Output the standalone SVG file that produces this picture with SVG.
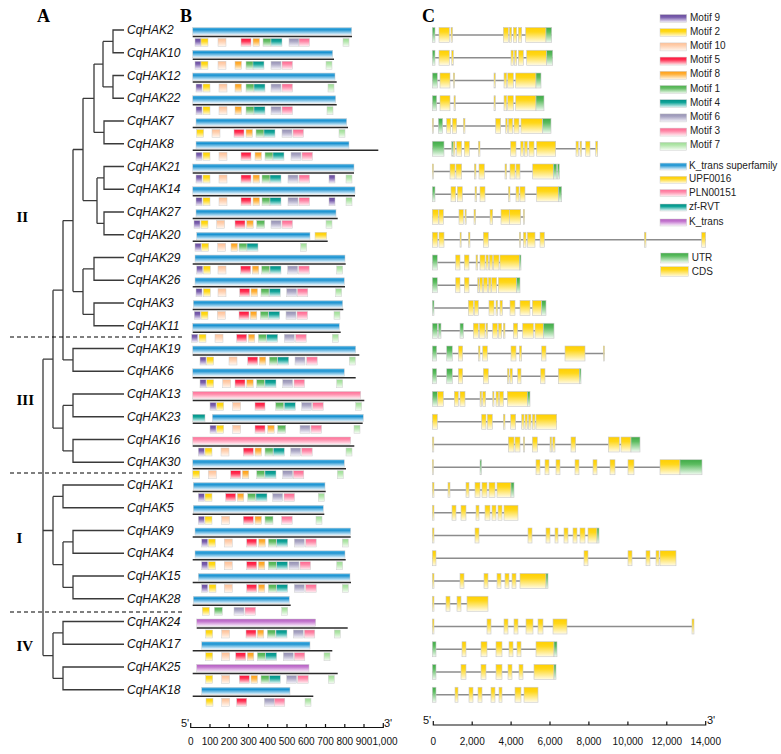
<svg xmlns="http://www.w3.org/2000/svg" width="781" height="754" viewBox="0 0 781 754">
<style>
.lbl{font:italic 12px "Liberation Sans",Arial,sans-serif;fill:#111}
.pl{stroke:#2a2a2a;stroke-width:1.4}
.in{stroke:#8c8c8c;stroke-width:1.3}
.dom{stroke:#cfcfcf;stroke-width:0.5}
.ex{stroke:#c8c8c8;stroke-width:0.6}
.Y{fill:url(#gY)}.G{fill:url(#gG)}
.kb{fill:url(#gKB)}.up{fill:url(#gUP)}.pn{fill:url(#gPN)}.zf{fill:url(#gZF)}.kt{fill:url(#gKT)}
.tree path{fill:none;stroke:#3a3a3a;stroke-width:1.3}
.dash{stroke:#000;stroke-width:1.2;stroke-dasharray:4 3}
.grp{font:bold 15px "Liberation Serif","Times New Roman",serif}
.pan{font:bold 18px "Liberation Serif","Times New Roman",serif}
.leg{font:10px "Liberation Sans",Arial,sans-serif;fill:#222}
.ax{font:10px "Liberation Sans",Arial,sans-serif;text-anchor:middle;fill:#111}
.axl{stroke:#111;stroke-width:1.2;fill:none}
.pr{font:11px "Liberation Sans",Arial,sans-serif;fill:#111}
</style>
<defs>
<linearGradient id="g9" x1="0" y1="0" x2="0" y2="1"><stop offset="0" stop-color="#6a4c9c"/><stop offset="0.35" stop-color="#7a5fae"/><stop offset="1" stop-color="#f6f2fb"/></linearGradient>
<linearGradient id="g2" x1="0" y1="0" x2="0" y2="1"><stop offset="0" stop-color="#ffd200"/><stop offset="0.35" stop-color="#ffd91a"/><stop offset="1" stop-color="#fffbe6"/></linearGradient>
<linearGradient id="g10" x1="0" y1="0" x2="0" y2="1"><stop offset="0" stop-color="#ffbf94"/><stop offset="0.35" stop-color="#ffcfae"/><stop offset="1" stop-color="#fff8f2"/></linearGradient>
<linearGradient id="g5" x1="0" y1="0" x2="0" y2="1"><stop offset="0" stop-color="#ff1038"/><stop offset="0.35" stop-color="#ff3355"/><stop offset="1" stop-color="#fff0f2"/></linearGradient>
<linearGradient id="g8" x1="0" y1="0" x2="0" y2="1"><stop offset="0" stop-color="#ff9e14"/><stop offset="0.35" stop-color="#ffb038"/><stop offset="1" stop-color="#fff6e8"/></linearGradient>
<linearGradient id="g1" x1="0" y1="0" x2="0" y2="1"><stop offset="0" stop-color="#4cb04c"/><stop offset="0.35" stop-color="#66be66"/><stop offset="1" stop-color="#f2faf2"/></linearGradient>
<linearGradient id="g4" x1="0" y1="0" x2="0" y2="1"><stop offset="0" stop-color="#008f85"/><stop offset="0.35" stop-color="#12a59a"/><stop offset="1" stop-color="#eefaf9"/></linearGradient>
<linearGradient id="g6" x1="0" y1="0" x2="0" y2="1"><stop offset="0" stop-color="#9490b2"/><stop offset="0.35" stop-color="#aaa6c4"/><stop offset="1" stop-color="#f7f6fb"/></linearGradient>
<linearGradient id="g3" x1="0" y1="0" x2="0" y2="1"><stop offset="0" stop-color="#ff6690"/><stop offset="0.35" stop-color="#ff86a6"/><stop offset="1" stop-color="#fff3f6"/></linearGradient>
<linearGradient id="g7" x1="0" y1="0" x2="0" y2="1"><stop offset="0" stop-color="#9cdc94"/><stop offset="0.35" stop-color="#b2e6aa"/><stop offset="1" stop-color="#f6fcf5"/></linearGradient>
<linearGradient id="gKB" x1="0" y1="0" x2="0" y2="1"><stop offset="0" stop-color="#5ab6e4"/><stop offset="0.3" stop-color="#1a92d0"/><stop offset="1" stop-color="#f4faff"/></linearGradient>
<linearGradient id="gUP" x1="0" y1="0" x2="0" y2="1"><stop offset="0" stop-color="#ffcc00"/><stop offset="0.35" stop-color="#ffd61a"/><stop offset="1" stop-color="#fffbe6"/></linearGradient>
<linearGradient id="gPN" x1="0" y1="0" x2="0" y2="1"><stop offset="0" stop-color="#ff6f98"/><stop offset="0.35" stop-color="#ff8cab"/><stop offset="1" stop-color="#fff3f6"/></linearGradient>
<linearGradient id="gZF" x1="0" y1="0" x2="0" y2="1"><stop offset="0" stop-color="#008f85"/><stop offset="0.35" stop-color="#0ea397"/><stop offset="1" stop-color="#eefaf9"/></linearGradient>
<linearGradient id="gKT" x1="0" y1="0" x2="0" y2="1"><stop offset="0" stop-color="#b35cc0"/><stop offset="0.35" stop-color="#c57ad0"/><stop offset="1" stop-color="#fbf3fc"/></linearGradient>
<linearGradient id="gY" x1="0" y1="0" x2="0" y2="1"><stop offset="0" stop-color="#ffcf00"/><stop offset="0.3" stop-color="#ffd71a"/><stop offset="1" stop-color="#fffbe8"/></linearGradient>
<linearGradient id="gG" x1="0" y1="0" x2="0" y2="1"><stop offset="0" stop-color="#3faa46"/><stop offset="0.3" stop-color="#5cbc60"/><stop offset="1" stop-color="#f3fbf3"/></linearGradient>
<rect id="m9" width="6" height="8" fill="url(#g9)" stroke="#cfcfcf" stroke-width="0.5"/>
<rect id="m2" width="7" height="8" fill="url(#g2)" stroke="#cfcfcf" stroke-width="0.5"/>
<rect id="m10" width="8" height="8" fill="url(#g10)" stroke="#cfcfcf" stroke-width="0.5"/>
<rect id="m5" width="10" height="8" fill="url(#g5)" stroke="#cfcfcf" stroke-width="0.5"/>
<rect id="m8" width="6.5" height="8" fill="url(#g8)" stroke="#cfcfcf" stroke-width="0.5"/>
<rect id="m1" width="8" height="8" fill="url(#g1)" stroke="#cfcfcf" stroke-width="0.5"/>
<rect id="m4" width="11" height="8" fill="url(#g4)" stroke="#cfcfcf" stroke-width="0.5"/>
<rect id="m6" width="10" height="8" fill="url(#g6)" stroke="#cfcfcf" stroke-width="0.5"/>
<rect id="m3" width="10.5" height="8" fill="url(#g3)" stroke="#cfcfcf" stroke-width="0.5"/>
<rect id="m7" width="6" height="8" fill="url(#g7)" stroke="#cfcfcf" stroke-width="0.5"/>
</defs>
<rect width="781" height="754" fill="#fff"/>

<text class="pan" x="37" y="22">A</text>
<text class="pan" x="180" y="22">B</text>
<text class="pan" x="422" y="22">C</text>

<text class="grp" x="16.5" y="222">II</text>
<text class="grp" x="16.5" y="405">III</text>
<text class="grp" x="16.5" y="543">I</text>
<text class="grp" x="16.5" y="651">IV</text>

<g id="connectors" class="tree">
<path d="M124,30H113V52.75H124M113,41.4H103"/>
<path d="M124,75.5H113V98.25H124M113,86.9H103"/>
<path d="M103,41.4V86.9M103,64.1H94"/>
<path d="M124,121H104V143.75H124M104,132.4H94"/>
<path d="M94,64.1V132.4M94,98.3H83"/>
<path d="M124,166.5H104V189.25H124M104,177.9H97"/>
<path d="M124,212H104V234.75H124M104,223.4H97"/>
<path d="M97,177.9V223.4M97,200.6H83"/>
<path d="M83,98.3V200.6M83,149.5H73"/>
<path d="M124,257.5H94V280.25H124M94,268.9H83"/>
<path d="M124,303H94V325.75H124M94,314.4H83"/>
<path d="M83,268.9V314.4M83,291.6H73"/>
<path d="M73,149.5V291.6M73,220.6H63"/>
<path d="M124,348.5H73V371.25H124M73,359.9H63"/>
<path d="M63,220.6V359.9M63,290.2H53"/>
<path d="M124,394H73V416.75H124M73,405.4H63"/>
<path d="M124,439.5H73V462.25H124M73,450.9H63"/>
<path d="M63,405.4V450.9M63,428.1H53"/>
<path d="M53,290.2V428.1M53,359.2H43"/>
<path d="M124,485H63V507.75H124M63,496.4H53"/>
<path d="M124,530.5H73V553.25H124M73,541.9H63"/>
<path d="M124,576H73V598.75H124M73,587.4H63"/>
<path d="M63,541.9V587.4M63,564.6H53"/>
<path d="M53,496.4V564.6M53,530.5H43"/>
<path d="M124,621.5H63V644.25H124M63,632.9H53"/>
<path d="M124,667H63V689.75H124M63,678.4H53"/>
<path d="M53,632.9V678.4M53,655.6H43"/>
<path d="M43,359.2V655.6"/>
</g>

<g id="dividers">
<line class="dash" x1="10" y1="337" x2="183" y2="337"/>
<line class="dash" x1="10" y1="473" x2="183" y2="473"/>
<line class="dash" x1="10" y1="612" x2="183" y2="612"/>
</g>

<g id="CqHAK2" transform="translate(0,30)">
<text class="lbl" x="127" y="4">CqHAK2</text>
<rect class="dom kb" x="192.7" y="-2.5" width="159" height="7.5"/>
<line class="pl" x1="192.7" x2="352" y1="6.5" y2="6.5"/>
<use href="#m9" x="195" y="8.5"/><use href="#m2" x="201" y="8.5"/><use href="#m10" x="218" y="8.5"/><use href="#m5" x="241" y="8.5"/><use href="#m8" x="253" y="8.5"/><use href="#m1" x="263" y="8.5"/><use href="#m4" x="271" y="8.5"/><use href="#m6" x="289" y="8.5"/><use href="#m3" x="299" y="8.5"/><use href="#m7" x="343" y="8.5"/>
<line class="in" x1="432.3" x2="551.7" y1="5" y2="5"/>
<rect class="ex G" x="432.3" y="-2.5" width="2.7" height="15"/><rect class="ex Y" x="439" y="-2.5" width="10.3" height="15"/><rect class="ex Y" x="451" y="-2.5" width="1.5" height="15"/><rect class="ex Y" x="503.3" y="-2.5" width="5" height="15"/><rect class="ex Y" x="509.3" y="-2.5" width="2.4" height="15"/><rect class="ex Y" x="513.3" y="-2.5" width="3.4" height="15"/><rect class="ex Y" x="518.3" y="-2.5" width="3.4" height="15"/><rect class="ex Y" x="525.7" y="-2.5" width="20.3" height="15"/><rect class="ex G" x="546" y="-2.5" width="5.7" height="15"/>
</g>

<g id="CqHAK10" transform="translate(0,52.75)">
<text class="lbl" x="127" y="4">CqHAK10</text>
<rect class="dom kb" x="192.7" y="-2.5" width="140" height="7.5"/>
<line class="pl" x1="192.7" x2="334" y1="6.5" y2="6.5"/>
<use href="#m9" x="195" y="8.5"/><use href="#m2" x="201" y="8.5"/><use href="#m10" x="218" y="8.5"/><use href="#m8" x="235" y="8.5"/><use href="#m1" x="246" y="8.5"/><use href="#m4" x="253" y="8.5"/><use href="#m6" x="271" y="8.5"/><use href="#m3" x="282" y="8.5"/><use href="#m7" x="326" y="8.5"/>
<line class="in" x1="432.3" x2="552.7" y1="5" y2="5"/>
<rect class="ex G" x="432.3" y="-2.5" width="2.7" height="15"/><rect class="ex Y" x="439" y="-2.5" width="10.3" height="15"/><rect class="ex Y" x="451.7" y="-2.5" width="1.6" height="15"/><rect class="ex Y" x="511" y="-2.5" width="2.3" height="15"/><rect class="ex Y" x="514.3" y="-2.5" width="2.4" height="15"/><rect class="ex Y" x="518.3" y="-2.5" width="5" height="15"/><rect class="ex Y" x="526.7" y="-2.5" width="20" height="15"/><rect class="ex G" x="546.7" y="-2.5" width="6" height="15"/>
</g>

<g id="CqHAK12" transform="translate(0,75.5)">
<text class="lbl" x="127" y="4">CqHAK12</text>
<rect class="dom kb" x="192.7" y="-2.5" width="142.3" height="7.5"/>
<line class="pl" x1="192.7" x2="336.7" y1="6.5" y2="6.5"/>
<use href="#m9" x="196" y="8.5"/><use href="#m2" x="203" y="8.5"/><use href="#m10" x="219" y="8.5"/><use href="#m8" x="235" y="8.5"/><use href="#m1" x="246" y="8.5"/><use href="#m4" x="254" y="8.5"/><use href="#m6" x="271" y="8.5"/><use href="#m3" x="282" y="8.5"/><use href="#m7" x="328" y="8.5"/>
<line class="in" x1="432.3" x2="541" y1="5" y2="5"/>
<rect class="ex G" x="432.3" y="-2.5" width="5" height="15"/><rect class="ex Y" x="440" y="-2.5" width="10" height="15"/><rect class="ex Y" x="453.3" y="-2.5" width="1.4" height="15"/><rect class="ex Y" x="494" y="-2.5" width="1.3" height="15"/><rect class="ex Y" x="504" y="-2.5" width="2.7" height="15"/><rect class="ex Y" x="507.7" y="-2.5" width="5.6" height="15"/><rect class="ex Y" x="515.7" y="-2.5" width="20.3" height="15"/><rect class="ex G" x="536" y="-2.5" width="5" height="15"/>
</g>

<g id="CqHAK22" transform="translate(0,98.25)">
<text class="lbl" x="127" y="4">CqHAK22</text>
<rect class="dom kb" x="192.7" y="-2.5" width="143" height="7.5"/>
<line class="pl" x1="192.7" x2="336.7" y1="6.5" y2="6.5"/>
<use href="#m9" x="196" y="8.5"/><use href="#m2" x="203" y="8.5"/><use href="#m10" x="219" y="8.5"/><use href="#m8" x="235" y="8.5"/><use href="#m1" x="246" y="8.5"/><use href="#m4" x="254" y="8.5"/><use href="#m6" x="271" y="8.5"/><use href="#m3" x="282" y="8.5"/><use href="#m7" x="327" y="8.5"/>
<line class="in" x1="432.3" x2="544" y1="5" y2="5"/>
<rect class="ex G" x="432.3" y="-2.5" width="4.4" height="15"/><rect class="ex Y" x="440" y="-2.5" width="10" height="15"/><rect class="ex Y" x="454" y="-2.5" width="1.3" height="15"/><rect class="ex Y" x="494" y="-2.5" width="1.3" height="15"/><rect class="ex Y" x="504" y="-2.5" width="2.7" height="15"/><rect class="ex Y" x="507.7" y="-2.5" width="5.6" height="15"/><rect class="ex Y" x="515.7" y="-2.5" width="20.3" height="15"/><rect class="ex G" x="536" y="-2.5" width="8" height="15"/>
</g>

<g id="CqHAK7" transform="translate(0,121)">
<text class="lbl" x="127" y="4">CqHAK7</text>
<rect class="dom kb" x="196" y="-2.5" width="150.7" height="7.5"/>
<line class="pl" x1="192.7" x2="348" y1="6.5" y2="6.5"/>
<use href="#m2" x="196.7" y="8.5"/><use href="#m10" x="212" y="8.5"/><use href="#m5" x="234" y="8.5"/><use href="#m8" x="246" y="8.5"/><use href="#m1" x="256" y="8.5"/><use href="#m4" x="264" y="8.5"/><use href="#m6" x="282" y="8.5"/><use href="#m3" x="293" y="8.5"/><use href="#m7" x="339" y="8.5"/>
<line class="in" x1="432.3" x2="551" y1="5" y2="5"/>
<rect class="ex Y" x="432.3" y="-2.5" width="1.2" height="15"/><rect class="ex G" x="438.3" y="-2.5" width="4.4" height="15"/><rect class="ex Y" x="446.7" y="-2.5" width="4" height="15"/><rect class="ex Y" x="452.3" y="-2.5" width="4.4" height="15"/><rect class="ex Y" x="463.3" y="-2.5" width="1.7" height="15"/><rect class="ex Y" x="495.7" y="-2.5" width="5" height="15"/><rect class="ex Y" x="505.7" y="-2.5" width="1.6" height="15"/><rect class="ex Y" x="508.3" y="-2.5" width="4.4" height="15"/><rect class="ex Y" x="514" y="-2.5" width="5" height="15"/><rect class="ex Y" x="521" y="-2.5" width="21.7" height="15"/><rect class="ex G" x="542.7" y="-2.5" width="8.3" height="15"/>
</g>

<g id="CqHAK8" transform="translate(0,143.75)">
<text class="lbl" x="127" y="4">CqHAK8</text>
<rect class="dom kb" x="196" y="-2.5" width="153" height="7.5"/>
<line class="pl" x1="192.7" x2="378.3" y1="6.5" y2="6.5"/>
<use href="#m9" x="196" y="8.5"/><use href="#m2" x="203" y="8.5"/><use href="#m10" x="219" y="8.5"/><use href="#m5" x="241" y="8.5"/><use href="#m8" x="255" y="8.5"/><use href="#m1" x="265" y="8.5"/><use href="#m4" x="273" y="8.5"/><use href="#m6" x="291" y="8.5"/><use href="#m3" x="302" y="8.5"/>
<line class="in" x1="432.3" x2="597.7" y1="5" y2="5"/>
<rect class="ex G" x="432.3" y="-2.5" width="11.7" height="15"/><rect class="ex G" x="451.7" y="-2.5" width="1.5" height="15"/><rect class="ex Y" x="453.2" y="-2.5" width="1.8" height="15"/><rect class="ex Y" x="456.7" y="-2.5" width="5" height="15"/><rect class="ex Y" x="464.3" y="-2.5" width="5" height="15"/><rect class="ex Y" x="478.3" y="-2.5" width="1.7" height="15"/><rect class="ex Y" x="510.7" y="-2.5" width="5.3" height="15"/><rect class="ex Y" x="520.7" y="-2.5" width="2.6" height="15"/><rect class="ex Y" x="524.3" y="-2.5" width="3" height="15"/><rect class="ex Y" x="529" y="-2.5" width="5" height="15"/><rect class="ex Y" x="536.7" y="-2.5" width="19" height="15"/><rect class="ex Y" x="576" y="-2.5" width="2.3" height="15"/><rect class="ex Y" x="580" y="-2.5" width="1.7" height="15"/><rect class="ex Y" x="585.7" y="-2.5" width="4.3" height="15"/><rect class="ex Y" x="595.7" y="-2.5" width="2" height="15"/>
</g>

<g id="CqHAK21" transform="translate(0,166.5)">
<text class="lbl" x="127" y="4">CqHAK21</text>
<rect class="dom kb" x="192.7" y="-2.5" width="161.3" height="7.5"/>
<line class="pl" x1="192.7" x2="354" y1="6.5" y2="6.5"/>
<use href="#m9" x="196" y="8.5"/><use href="#m2" x="203" y="8.5"/><use href="#m10" x="219" y="8.5"/><use href="#m5" x="241" y="8.5"/><use href="#m8" x="253" y="8.5"/><use href="#m1" x="262" y="8.5"/><use href="#m4" x="270" y="8.5"/><use href="#m6" x="288" y="8.5"/><use href="#m3" x="299" y="8.5"/><use href="#m9" x="329" y="8.5"/><use href="#m7" x="346" y="8.5"/>
<line class="in" x1="432.3" x2="559.3" y1="5" y2="5"/>
<rect class="ex Y" x="432.3" y="-2.5" width="1.2" height="15"/><rect class="ex Y" x="450" y="-2.5" width="5" height="15"/><rect class="ex Y" x="456" y="-2.5" width="5.7" height="15"/><rect class="ex Y" x="474.3" y="-2.5" width="1.7" height="15"/><rect class="ex Y" x="479" y="-2.5" width="5.3" height="15"/><rect class="ex Y" x="505" y="-2.5" width="1.7" height="15"/><rect class="ex Y" x="510" y="-2.5" width="5" height="15"/><rect class="ex Y" x="516" y="-2.5" width="4" height="15"/><rect class="ex Y" x="532.7" y="-2.5" width="20.6" height="15"/><rect class="ex G" x="553.3" y="-2.5" width="3.5" height="15"/><rect class="ex G" x="557.5" y="-2.5" width="1.8" height="15"/>
</g>

<g id="CqHAK14" transform="translate(0,189.25)">
<text class="lbl" x="127" y="4">CqHAK14</text>
<rect class="dom kb" x="192.7" y="-2.5" width="162.3" height="7.5"/>
<line class="pl" x1="192.7" x2="355" y1="6.5" y2="6.5"/>
<use href="#m9" x="196" y="8.5"/><use href="#m2" x="203" y="8.5"/><use href="#m10" x="219" y="8.5"/><use href="#m5" x="241" y="8.5"/><use href="#m8" x="253" y="8.5"/><use href="#m1" x="262" y="8.5"/><use href="#m4" x="270" y="8.5"/><use href="#m6" x="288" y="8.5"/><use href="#m3" x="299" y="8.5"/><use href="#m9" x="329" y="8.5"/><use href="#m7" x="346" y="8.5"/>
<line class="in" x1="432.3" x2="561.7" y1="5" y2="5"/>
<rect class="ex G" x="432.3" y="-2.5" width="2.7" height="15"/><rect class="ex Y" x="451" y="-2.5" width="4.7" height="15"/><rect class="ex Y" x="457.3" y="-2.5" width="5" height="15"/><rect class="ex Y" x="475" y="-2.5" width="1.7" height="15"/><rect class="ex Y" x="480" y="-2.5" width="5" height="15"/><rect class="ex Y" x="508.3" y="-2.5" width="1.7" height="15"/><rect class="ex Y" x="516" y="-2.5" width="3" height="15"/><rect class="ex Y" x="520" y="-2.5" width="5" height="15"/><rect class="ex Y" x="536.7" y="-2.5" width="21.6" height="15"/><rect class="ex G" x="558.3" y="-2.5" width="3.4" height="15"/>
</g>

<g id="CqHAK27" transform="translate(0,212)">
<text class="lbl" x="127" y="4">CqHAK27</text>
<rect class="dom kb" x="196" y="-2.5" width="140" height="7.5"/>
<line class="pl" x1="192.7" x2="337.7" y1="6.5" y2="6.5"/>
<use href="#m9" x="194" y="8.5"/><use href="#m2" x="201" y="8.5"/><use href="#m10" x="216.7" y="8.5"/><use href="#m5" x="235" y="8.5"/><use href="#m8" x="246.7" y="8.5"/><use href="#m1" x="256.7" y="8.5"/><use href="#m6" x="271" y="8.5"/><use href="#m3" x="282" y="8.5"/><use href="#m7" x="326" y="8.5"/>
<line class="in" x1="432.3" x2="524.5" y1="5" y2="5"/>
<rect class="ex Y" x="432.3" y="-2.5" width="6" height="15"/><rect class="ex Y" x="439" y="-2.5" width="4.3" height="15"/><rect class="ex Y" x="459" y="-2.5" width="4.3" height="15"/><rect class="ex Y" x="465" y="-2.5" width="1.2" height="15"/><rect class="ex Y" x="474" y="-2.5" width="1.7" height="15"/><rect class="ex Y" x="490" y="-2.5" width="2.7" height="15"/><rect class="ex Y" x="501" y="-2.5" width="8.3" height="15"/><rect class="ex Y" x="509.3" y="-2.5" width="11.4" height="15"/><rect class="ex Y" x="523.3" y="-2.5" width="1.2" height="15"/>
</g>

<g id="CqHAK20" transform="translate(0,234.75)">
<text class="lbl" x="127" y="4">CqHAK20</text>
<rect class="dom kb" x="196.7" y="-2.5" width="113.3" height="7.5"/>
<rect class="dom up" x="315" y="-2.5" width="11.7" height="7.5"/>
<line class="pl" x1="192.7" x2="327.7" y1="6.5" y2="6.5"/>
<use href="#m9" x="195" y="8.5"/><use href="#m2" x="201.7" y="8.5"/><use href="#m10" x="217.7" y="8.5"/><use href="#m8" x="231" y="8.5"/><use href="#m1" x="239" y="8.5"/><use href="#m4" x="247" y="8.5"/><use href="#m7" x="300.7" y="8.5"/>
<line class="in" x1="432.3" x2="705.7" y1="5" y2="5"/>
<rect class="ex Y" x="432.3" y="-2.5" width="5.4" height="15"/><rect class="ex Y" x="439" y="-2.5" width="5" height="15"/><rect class="ex Y" x="460" y="-2.5" width="1.2" height="15"/><rect class="ex Y" x="468.3" y="-2.5" width="1.7" height="15"/><rect class="ex Y" x="483.3" y="-2.5" width="5" height="15"/><rect class="ex Y" x="519.3" y="-2.5" width="1.4" height="15"/><rect class="ex Y" x="523.3" y="-2.5" width="2.7" height="15"/><rect class="ex Y" x="527.3" y="-2.5" width="7.7" height="15"/><rect class="ex Y" x="540" y="-2.5" width="4.3" height="15"/><rect class="ex Y" x="644.3" y="-2.5" width="1.7" height="15"/><rect class="ex Y" x="701.7" y="-2.5" width="4" height="15"/>
</g>

<g id="CqHAK29" transform="translate(0,257.5)">
<text class="lbl" x="127" y="4">CqHAK29</text>
<rect class="dom kb" x="195" y="-2.5" width="150" height="7.5"/>
<line class="pl" x1="192.7" x2="345.7" y1="6.5" y2="6.5"/>
<use href="#m9" x="196.7" y="8.5"/><use href="#m2" x="203.3" y="8.5"/><use href="#m10" x="218" y="8.5"/><use href="#m5" x="240.7" y="8.5"/><use href="#m8" x="252.3" y="8.5"/><use href="#m1" x="261.7" y="8.5"/><use href="#m4" x="270" y="8.5"/><use href="#m6" x="287.7" y="8.5"/><use href="#m3" x="298.7" y="8.5"/><use href="#m7" x="336.7" y="8.5"/>
<line class="in" x1="432.3" x2="521" y1="5" y2="5"/>
<rect class="ex G" x="432.3" y="-2.5" width="5" height="15"/><rect class="ex Y" x="455.7" y="-2.5" width="4.3" height="15"/><rect class="ex Y" x="464.3" y="-2.5" width="4.7" height="15"/><rect class="ex Y" x="476" y="-2.5" width="1.7" height="15"/><rect class="ex Y" x="480" y="-2.5" width="5" height="15"/><rect class="ex Y" x="486" y="-2.5" width="2.3" height="15"/><rect class="ex Y" x="489.3" y="-2.5" width="3.4" height="15"/><rect class="ex Y" x="493.3" y="-2.5" width="5.7" height="15"/><rect class="ex Y" x="500" y="-2.5" width="19.3" height="15"/><rect class="ex G" x="519.3" y="-2.5" width="1.7" height="15"/>
</g>

<g id="CqHAK26" transform="translate(0,280.25)">
<text class="lbl" x="127" y="4">CqHAK26</text>
<rect class="dom kb" x="195" y="-2.5" width="149.3" height="7.5"/>
<line class="pl" x1="192.7" x2="345" y1="6.5" y2="6.5"/>
<use href="#m9" x="196" y="8.5"/><use href="#m2" x="203.3" y="8.5"/><use href="#m10" x="218" y="8.5"/><use href="#m5" x="239.7" y="8.5"/><use href="#m8" x="251" y="8.5"/><use href="#m1" x="261" y="8.5"/><use href="#m4" x="269.3" y="8.5"/><use href="#m6" x="286.7" y="8.5"/><use href="#m3" x="297.3" y="8.5"/><use href="#m7" x="335.7" y="8.5"/>
<line class="in" x1="432.3" x2="520" y1="5" y2="5"/>
<rect class="ex G" x="432.3" y="-2.5" width="5" height="15"/><rect class="ex Y" x="455.7" y="-2.5" width="4.3" height="15"/><rect class="ex Y" x="464.3" y="-2.5" width="4.7" height="15"/><rect class="ex Y" x="477.7" y="-2.5" width="1.4" height="15"/><rect class="ex Y" x="479.7" y="-2.5" width="3" height="15"/><rect class="ex Y" x="483.3" y="-2.5" width="4" height="15"/><rect class="ex Y" x="488.3" y="-2.5" width="2.7" height="15"/><rect class="ex Y" x="491.7" y="-2.5" width="5" height="15"/><rect class="ex Y" x="498.3" y="-2.5" width="18.4" height="15"/><rect class="ex G" x="516.7" y="-2.5" width="3.3" height="15"/>
</g>

<g id="CqHAK3" transform="translate(0,303)">
<text class="lbl" x="127" y="4">CqHAK3</text>
<rect class="dom kb" x="193.3" y="-2.5" width="149.4" height="7.5"/>
<line class="pl" x1="192.7" x2="343.3" y1="6.5" y2="6.5"/>
<use href="#m9" x="194.3" y="8.5"/><use href="#m2" x="201" y="8.5"/><use href="#m10" x="217.3" y="8.5"/><use href="#m5" x="239" y="8.5"/><use href="#m8" x="250.3" y="8.5"/><use href="#m1" x="260.3" y="8.5"/><use href="#m4" x="268.7" y="8.5"/><use href="#m6" x="286" y="8.5"/><use href="#m3" x="297" y="8.5"/><use href="#m7" x="334" y="8.5"/>
<line class="in" x1="432.3" x2="546" y1="5" y2="5"/>
<rect class="ex G" x="432.3" y="-2.5" width="1.7" height="15"/><rect class="ex Y" x="468.3" y="-2.5" width="5" height="15"/><rect class="ex Y" x="474.3" y="-2.5" width="4" height="15"/><rect class="ex Y" x="489" y="-2.5" width="5" height="15"/><rect class="ex Y" x="496" y="-2.5" width="1.7" height="15"/><rect class="ex Y" x="500" y="-2.5" width="2.3" height="15"/><rect class="ex Y" x="510" y="-2.5" width="5" height="15"/><rect class="ex Y" x="520" y="-2.5" width="10" height="15"/><rect class="ex Y" x="532.3" y="-2.5" width="9.4" height="15"/><rect class="ex G" x="541.7" y="-2.5" width="4.3" height="15"/>
</g>

<g id="CqHAK11" transform="translate(0,325.75)">
<text class="lbl" x="127" y="4">CqHAK11</text>
<rect class="dom kb" x="192.7" y="-2.5" width="146.6" height="7.5"/>
<line class="pl" x1="192.7" x2="340.7" y1="6.5" y2="6.5"/>
<use href="#m9" x="191.7" y="8.5"/><use href="#m2" x="199" y="8.5"/><use href="#m10" x="215" y="8.5"/><use href="#m5" x="236.7" y="8.5"/><use href="#m8" x="248.3" y="8.5"/><use href="#m1" x="258.3" y="8.5"/><use href="#m4" x="266.7" y="8.5"/><use href="#m6" x="284.3" y="8.5"/><use href="#m3" x="295.7" y="8.5"/><use href="#m7" x="332.3" y="8.5"/>
<line class="in" x1="432.3" x2="554" y1="5" y2="5"/>
<rect class="ex G" x="432.3" y="-2.5" width="5" height="15"/><rect class="ex G" x="438.3" y="-2.5" width="2.7" height="15"/><rect class="ex G" x="460" y="-2.5" width="3.3" height="15"/><rect class="ex Y" x="473.3" y="-2.5" width="5" height="15"/><rect class="ex Y" x="479.3" y="-2.5" width="5.7" height="15"/><rect class="ex Y" x="486" y="-2.5" width="1.7" height="15"/><rect class="ex Y" x="492.7" y="-2.5" width="4.6" height="15"/><rect class="ex Y" x="498.3" y="-2.5" width="3.4" height="15"/><rect class="ex Y" x="503.3" y="-2.5" width="1.7" height="15"/><rect class="ex Y" x="513.3" y="-2.5" width="4.4" height="15"/><rect class="ex Y" x="522.7" y="-2.5" width="10.6" height="15"/><rect class="ex Y" x="535" y="-2.5" width="8.3" height="15"/><rect class="ex G" x="543.3" y="-2.5" width="10.7" height="15"/>
</g>

<g id="CqHAK19" transform="translate(0,348.5)">
<text class="lbl" x="127" y="4">CqHAK19</text>
<rect class="dom kb" x="192.7" y="-2.5" width="163" height="7.5"/>
<line class="pl" x1="192.7" x2="359.3" y1="6.5" y2="6.5"/>
<use href="#m9" x="200" y="8.5"/><use href="#m2" x="206.7" y="8.5"/><use href="#m10" x="229" y="8.5"/><use href="#m5" x="247.7" y="8.5"/><use href="#m8" x="259.3" y="8.5"/><use href="#m1" x="269.3" y="8.5"/><use href="#m4" x="277.7" y="8.5"/><use href="#m6" x="295" y="8.5"/><use href="#m3" x="306.7" y="8.5"/><use href="#m7" x="349.3" y="8.5"/>
<line class="in" x1="432.3" x2="604.5" y1="5" y2="5"/>
<rect class="ex G" x="432.3" y="-2.5" width="4.4" height="15"/><rect class="ex G" x="446.7" y="-2.5" width="5.6" height="15"/><rect class="ex Y" x="458.3" y="-2.5" width="4.4" height="15"/><rect class="ex Y" x="478.3" y="-2.5" width="1.7" height="15"/><rect class="ex Y" x="482.7" y="-2.5" width="4.6" height="15"/><rect class="ex Y" x="511" y="-2.5" width="5" height="15"/><rect class="ex Y" x="519.3" y="-2.5" width="2.4" height="15"/><rect class="ex Y" x="541.7" y="-2.5" width="4.3" height="15"/><rect class="ex Y" x="565" y="-2.5" width="20" height="15"/><rect class="ex Y" x="603.3" y="-2.5" width="1.2" height="15"/>
</g>

<g id="CqHAK6" transform="translate(0,371.25)">
<text class="lbl" x="127" y="4">CqHAK6</text>
<rect class="dom kb" x="192.7" y="-2.5" width="151.6" height="7.5"/>
<line class="pl" x1="192.7" x2="355.7" y1="6.5" y2="6.5"/>
<use href="#m9" x="200" y="8.5"/><use href="#m2" x="206.7" y="8.5"/><use href="#m10" x="222.7" y="8.5"/><use href="#m5" x="235" y="8.5"/><use href="#m8" x="246.7" y="8.5"/><use href="#m1" x="256.7" y="8.5"/><use href="#m4" x="265" y="8.5"/><use href="#m6" x="282.7" y="8.5"/><use href="#m3" x="294" y="8.5"/><use href="#m7" x="336.7" y="8.5"/>
<line class="in" x1="432.3" x2="581" y1="5" y2="5"/>
<rect class="ex G" x="432.3" y="-2.5" width="4.4" height="15"/><rect class="ex G" x="446.7" y="-2.5" width="5.6" height="15"/><rect class="ex Y" x="458.3" y="-2.5" width="4.4" height="15"/><rect class="ex Y" x="483.3" y="-2.5" width="5" height="15"/><rect class="ex Y" x="507.3" y="-2.5" width="1.7" height="15"/><rect class="ex Y" x="510" y="-2.5" width="2.3" height="15"/><rect class="ex Y" x="517.7" y="-2.5" width="3.3" height="15"/><rect class="ex Y" x="540.7" y="-2.5" width="4.3" height="15"/><rect class="ex Y" x="558.3" y="-2.5" width="21" height="15"/><rect class="ex G" x="579.3" y="-2.5" width="1.7" height="15"/>
</g>

<g id="CqHAK13" transform="translate(0,394)">
<text class="lbl" x="127" y="4">CqHAK13</text>
<rect class="dom pn" x="192.7" y="-2.5" width="168" height="7.5"/>
<line class="pl" x1="192.7" x2="364.3" y1="6.5" y2="6.5"/>
<use href="#m9" x="210" y="8.5"/><use href="#m2" x="216.7" y="8.5"/><use href="#m10" x="232.7" y="8.5"/><use href="#m5" x="255" y="8.5"/><use href="#m1" x="275.7" y="8.5"/><use href="#m4" x="284.3" y="8.5"/><use href="#m6" x="301.7" y="8.5"/><use href="#m3" x="312.7" y="8.5"/><use href="#m7" x="355.7" y="8.5"/>
<line class="in" x1="432.3" x2="530" y1="5" y2="5"/>
<rect class="ex G" x="432.3" y="-2.5" width="5" height="15"/><rect class="ex Y" x="437.3" y="-2.5" width="6" height="15"/><rect class="ex Y" x="454.3" y="-2.5" width="4" height="15"/><rect class="ex Y" x="460" y="-2.5" width="5" height="15"/><rect class="ex Y" x="480" y="-2.5" width="1.7" height="15"/><rect class="ex Y" x="482.7" y="-2.5" width="3" height="15"/><rect class="ex Y" x="492.7" y="-2.5" width="1.3" height="15"/><rect class="ex Y" x="496" y="-2.5" width="2.7" height="15"/><rect class="ex Y" x="499.3" y="-2.5" width="4" height="15"/><rect class="ex Y" x="507.3" y="-2.5" width="20" height="15"/><rect class="ex G" x="527.3" y="-2.5" width="2.7" height="15"/>
</g>

<g id="CqHAK23" transform="translate(0,416.75)">
<text class="lbl" x="127" y="4">CqHAK23</text>
<rect class="dom zf" x="192.7" y="-2.5" width="12.3" height="7.5"/>
<rect class="dom kb" x="212.3" y="-2.5" width="151" height="7.5"/>
<line class="pl" x1="192.7" x2="362.7" y1="6.5" y2="6.5"/>
<use href="#m9" x="210" y="8.5"/><use href="#m2" x="216.7" y="8.5"/><use href="#m10" x="232.7" y="8.5"/><use href="#m5" x="255" y="8.5"/><use href="#m8" x="267.7" y="8.5"/><use href="#m1" x="277.7" y="8.5"/><use href="#m6" x="300" y="8.5"/><use href="#m3" x="311" y="8.5"/><use href="#m7" x="354" y="8.5"/>
<line class="in" x1="432.3" x2="556.7" y1="5" y2="5"/>
<rect class="ex Y" x="432.3" y="-2.5" width="5" height="15"/><rect class="ex Y" x="481.7" y="-2.5" width="4.3" height="15"/><rect class="ex Y" x="487.3" y="-2.5" width="5" height="15"/><rect class="ex Y" x="503.3" y="-2.5" width="1.7" height="15"/><rect class="ex Y" x="510.7" y="-2.5" width="5" height="15"/><rect class="ex Y" x="521.7" y="-2.5" width="2.3" height="15"/><rect class="ex Y" x="525" y="-2.5" width="2.3" height="15"/><rect class="ex Y" x="528.3" y="-2.5" width="2.7" height="15"/><rect class="ex Y" x="532.3" y="-2.5" width="2.7" height="15"/><rect class="ex Y" x="536" y="-2.5" width="20.7" height="15"/>
</g>

<g id="CqHAK16" transform="translate(0,439.5)">
<text class="lbl" x="127" y="4">CqHAK16</text>
<rect class="dom pn" x="192.7" y="-2.5" width="158" height="7.5"/>
<line class="pl" x1="192.7" x2="354.3" y1="6.5" y2="6.5"/>
<use href="#m9" x="198.3" y="8.5"/><use href="#m2" x="205" y="8.5"/><use href="#m10" x="221" y="8.5"/><use href="#m5" x="243.3" y="8.5"/><use href="#m8" x="255" y="8.5"/><use href="#m1" x="265" y="8.5"/><use href="#m4" x="273.3" y="8.5"/><use href="#m6" x="290.7" y="8.5"/><use href="#m3" x="301.7" y="8.5"/><use href="#m7" x="346" y="8.5"/>
<line class="in" x1="432.3" x2="640" y1="5" y2="5"/>
<rect class="ex Y" x="432.3" y="-2.5" width="1.5" height="15"/><rect class="ex Y" x="508.3" y="-2.5" width="5.7" height="15"/><rect class="ex Y" x="515" y="-2.5" width="5" height="15"/><rect class="ex Y" x="523.3" y="-2.5" width="1.4" height="15"/><rect class="ex Y" x="532.3" y="-2.5" width="5" height="15"/><rect class="ex Y" x="550" y="-2.5" width="1.7" height="15"/><rect class="ex Y" x="552.7" y="-2.5" width="2.3" height="15"/><rect class="ex Y" x="571" y="-2.5" width="4.7" height="15"/><rect class="ex Y" x="608.3" y="-2.5" width="11" height="15"/><rect class="ex Y" x="621" y="-2.5" width="10" height="15"/><rect class="ex G" x="631" y="-2.5" width="9" height="15"/>
</g>

<g id="CqHAK30" transform="translate(0,462.25)">
<text class="lbl" x="127" y="4">CqHAK30</text>
<rect class="dom kb" x="192.7" y="-2.5" width="151.6" height="7.5"/>
<line class="pl" x1="192.7" x2="346" y1="6.5" y2="6.5"/>
<use href="#m2" x="192.7" y="8.5"/><use href="#m10" x="208.3" y="8.5"/><use href="#m5" x="230.7" y="8.5"/><use href="#m8" x="242.3" y="8.5"/><use href="#m1" x="256.7" y="8.5"/><use href="#m4" x="265" y="8.5"/><use href="#m6" x="282.7" y="8.5"/><use href="#m3" x="293.3" y="8.5"/><use href="#m7" x="337.3" y="8.5"/>
<line class="in" x1="432.3" x2="702" y1="5" y2="5"/>
<rect class="ex Y" x="432.3" y="-2.5" width="1.2" height="15"/><rect class="ex G" x="480" y="-2.5" width="1.5" height="15"/><rect class="ex Y" x="536" y="-2.5" width="4" height="15"/><rect class="ex Y" x="545" y="-2.5" width="4" height="15"/><rect class="ex Y" x="556" y="-2.5" width="4" height="15"/><rect class="ex Y" x="575" y="-2.5" width="4" height="15"/><rect class="ex Y" x="593" y="-2.5" width="4" height="15"/><rect class="ex Y" x="610" y="-2.5" width="5" height="15"/><rect class="ex Y" x="628" y="-2.5" width="6" height="15"/><rect class="ex Y" x="660" y="-2.5" width="20" height="15"/><rect class="ex G" x="680" y="-2.5" width="22" height="15"/>
</g>

<g id="CqHAK1" transform="translate(0,485)">
<text class="lbl" x="127" y="4">CqHAK1</text>
<rect class="dom kb" x="193.3" y="-2.5" width="131.7" height="7.5"/>
<line class="pl" x1="192.7" x2="325.7" y1="6.5" y2="6.5"/>
<use href="#m9" x="198.3" y="8.5"/><use href="#m2" x="205" y="8.5"/><use href="#m5" x="225.7" y="8.5"/><use href="#m8" x="237.3" y="8.5"/><use href="#m1" x="247.7" y="8.5"/><use href="#m4" x="256" y="8.5"/><use href="#m6" x="272.7" y="8.5"/><use href="#m3" x="284" y="8.5"/><use href="#m7" x="318.3" y="8.5"/>
<line class="in" x1="432.3" x2="514" y1="5" y2="5"/>
<rect class="ex Y" x="432.3" y="-2.5" width="1.7" height="15"/><rect class="ex Y" x="448" y="-2.5" width="2" height="15"/><rect class="ex Y" x="466" y="-2.5" width="3" height="15"/><rect class="ex Y" x="475" y="-2.5" width="5" height="15"/><rect class="ex Y" x="482" y="-2.5" width="5" height="15"/><rect class="ex Y" x="489" y="-2.5" width="6" height="15"/><rect class="ex Y" x="497" y="-2.5" width="14" height="15"/><rect class="ex G" x="511" y="-2.5" width="3" height="15"/>
</g>

<g id="CqHAK5" transform="translate(0,507.75)">
<text class="lbl" x="127" y="4">CqHAK5</text>
<rect class="dom kb" x="193.3" y="-2.5" width="130" height="7.5"/>
<line class="pl" x1="192.7" x2="324.3" y1="6.5" y2="6.5"/>
<use href="#m9" x="198.3" y="8.5"/><use href="#m2" x="205" y="8.5"/><use href="#m10" x="221.7" y="8.5"/><use href="#m5" x="243.3" y="8.5"/><use href="#m8" x="255" y="8.5"/><use href="#m1" x="265" y="8.5"/><use href="#m3" x="281.7" y="8.5"/><use href="#m7" x="316" y="8.5"/>
<line class="in" x1="432.3" x2="518" y1="5" y2="5"/>
<rect class="ex Y" x="432.3" y="-2.5" width="1.7" height="15"/><rect class="ex Y" x="452" y="-2.5" width="4" height="15"/><rect class="ex Y" x="461" y="-2.5" width="5" height="15"/><rect class="ex Y" x="476" y="-2.5" width="3" height="15"/><rect class="ex Y" x="485" y="-2.5" width="5" height="15"/><rect class="ex Y" x="492" y="-2.5" width="4" height="15"/><rect class="ex Y" x="498" y="-2.5" width="4" height="15"/><rect class="ex Y" x="504" y="-2.5" width="14" height="15"/>
</g>

<g id="CqHAK9" transform="translate(0,530.5)">
<text class="lbl" x="127" y="4">CqHAK9</text>
<rect class="dom kb" x="195" y="-2.5" width="155.7" height="7.5"/>
<line class="pl" x1="192.7" x2="350.7" y1="6.5" y2="6.5"/>
<use href="#m9" x="201.7" y="8.5"/><use href="#m2" x="208.3" y="8.5"/><use href="#m10" x="224.3" y="8.5"/><use href="#m5" x="246.7" y="8.5"/><use href="#m8" x="258.7" y="8.5"/><use href="#m1" x="268.3" y="8.5"/><use href="#m4" x="276.7" y="8.5"/><use href="#m6" x="294.3" y="8.5"/><use href="#m3" x="305.7" y="8.5"/><use href="#m7" x="342.3" y="8.5"/>
<line class="in" x1="432.3" x2="599" y1="5" y2="5"/>
<rect class="ex Y" x="432.3" y="-2.5" width="1.7" height="15"/><rect class="ex Y" x="475" y="-2.5" width="4" height="15"/><rect class="ex Y" x="528" y="-2.5" width="4" height="15"/><rect class="ex Y" x="546" y="-2.5" width="4" height="15"/><rect class="ex Y" x="555" y="-2.5" width="3" height="15"/><rect class="ex Y" x="564" y="-2.5" width="4" height="15"/><rect class="ex Y" x="573" y="-2.5" width="4" height="15"/><rect class="ex Y" x="580" y="-2.5" width="5" height="15"/><rect class="ex Y" x="588" y="-2.5" width="9" height="15"/><rect class="ex G" x="597" y="-2.5" width="2" height="15"/>
</g>

<g id="CqHAK4" transform="translate(0,553.25)">
<text class="lbl" x="127" y="4">CqHAK4</text>
<rect class="dom kb" x="195" y="-2.5" width="150" height="7.5"/>
<line class="pl" x1="192.7" x2="345.7" y1="6.5" y2="6.5"/>
<use href="#m9" x="201.7" y="8.5"/><use href="#m2" x="208.3" y="8.5"/><use href="#m10" x="224.3" y="8.5"/><use href="#m5" x="246.7" y="8.5"/><use href="#m8" x="258.3" y="8.5"/><use href="#m1" x="268.3" y="8.5"/><use href="#m4" x="276.7" y="8.5"/><use href="#m6" x="289" y="8.5"/><use href="#m3" x="300" y="8.5"/><use href="#m7" x="336.7" y="8.5"/>
<line class="in" x1="432.3" x2="676" y1="5" y2="5"/>
<rect class="ex Y" x="432.3" y="-2.5" width="3.7" height="15"/><rect class="ex Y" x="584" y="-2.5" width="4" height="15"/><rect class="ex Y" x="628" y="-2.5" width="4" height="15"/><rect class="ex Y" x="646" y="-2.5" width="4" height="15"/><rect class="ex Y" x="656" y="-2.5" width="3" height="15"/><rect class="ex Y" x="660" y="-2.5" width="16" height="15"/>
</g>

<g id="CqHAK15" transform="translate(0,576)">
<text class="lbl" x="127" y="4">CqHAK15</text>
<rect class="dom kb" x="198.3" y="-2.5" width="151.7" height="7.5"/>
<line class="pl" x1="192.7" x2="351" y1="6.5" y2="6.5"/>
<use href="#m9" x="201.7" y="8.5"/><use href="#m2" x="209" y="8.5"/><use href="#m10" x="224.3" y="8.5"/><use href="#m5" x="246.7" y="8.5"/><use href="#m8" x="258.3" y="8.5"/><use href="#m1" x="268.3" y="8.5"/><use href="#m4" x="276.7" y="8.5"/><use href="#m6" x="294.3" y="8.5"/><use href="#m3" x="305.7" y="8.5"/><use href="#m7" x="342.3" y="8.5"/>
<line class="in" x1="432.3" x2="548" y1="5" y2="5"/>
<rect class="ex Y" x="432.3" y="-2.5" width="1.7" height="15"/><rect class="ex Y" x="460" y="-2.5" width="4" height="15"/><rect class="ex Y" x="484" y="-2.5" width="4" height="15"/><rect class="ex Y" x="497" y="-2.5" width="4" height="15"/><rect class="ex Y" x="505" y="-2.5" width="4" height="15"/><rect class="ex Y" x="512" y="-2.5" width="4" height="15"/><rect class="ex Y" x="520" y="-2.5" width="26" height="15"/><rect class="ex G" x="546" y="-2.5" width="2" height="15"/>
</g>

<g id="CqHAK28" transform="translate(0,598.75)">
<text class="lbl" x="127" y="4">CqHAK28</text>
<rect class="dom kb" x="193.3" y="-2.5" width="96" height="7.5"/>
<line class="pl" x1="192.7" x2="290.7" y1="6.5" y2="6.5"/>
<use href="#m2" x="202.3" y="8.5"/><use href="#m1" x="214.3" y="8.5"/><use href="#m6" x="234" y="8.5"/><use href="#m3" x="245" y="8.5"/><use href="#m7" x="281.7" y="8.5"/>
<line class="in" x1="432.3" x2="488" y1="5" y2="5"/>
<rect class="ex Y" x="432.3" y="-2.5" width="1.7" height="15"/><rect class="ex Y" x="446" y="-2.5" width="4" height="15"/><rect class="ex Y" x="457" y="-2.5" width="4" height="15"/><rect class="ex Y" x="467" y="-2.5" width="21" height="15"/>
</g>

<g id="CqHAK24" transform="translate(0,621.5)">
<text class="lbl" x="127" y="4">CqHAK24</text>
<rect class="dom kt" x="196.7" y="-2.5" width="119" height="7.5"/>
<line class="pl" x1="196.7" x2="347.7" y1="6.5" y2="6.5"/>
<use href="#m2" x="205.7" y="8.5"/><use href="#m10" x="221.7" y="8.5"/><use href="#m5" x="246" y="8.5"/><use href="#m8" x="257.3" y="8.5"/><use href="#m1" x="267.3" y="8.5"/><use href="#m4" x="276" y="8.5"/><use href="#m6" x="293.3" y="8.5"/><use href="#m3" x="304.3" y="8.5"/><use href="#m7" x="334.3" y="8.5"/>
<line class="in" x1="432.3" x2="694" y1="5" y2="5"/>
<rect class="ex Y" x="432.3" y="-2.5" width="1.7" height="15"/><rect class="ex Y" x="487" y="-2.5" width="4" height="15"/><rect class="ex Y" x="504" y="-2.5" width="4" height="15"/><rect class="ex Y" x="514" y="-2.5" width="4" height="15"/><rect class="ex Y" x="526" y="-2.5" width="7" height="15"/><rect class="ex Y" x="538" y="-2.5" width="5" height="15"/><rect class="ex Y" x="553" y="-2.5" width="14" height="15"/><rect class="ex Y" x="692" y="-2.5" width="2" height="15"/>
</g>

<g id="CqHAK17" transform="translate(0,644.25)">
<text class="lbl" x="127" y="4">CqHAK17</text>
<rect class="dom kb" x="201.7" y="-2.5" width="108.3" height="7.5"/>
<line class="pl" x1="192.7" x2="332.3" y1="6.5" y2="6.5"/>
<use href="#m2" x="205.7" y="8.5"/><use href="#m10" x="221.7" y="8.5"/><use href="#m5" x="235.7" y="8.5"/><use href="#m8" x="247.3" y="8.5"/><use href="#m1" x="257.3" y="8.5"/><use href="#m4" x="265.7" y="8.5"/><use href="#m6" x="283.3" y="8.5"/><use href="#m3" x="294.3" y="8.5"/><use href="#m7" x="324" y="8.5"/>
<line class="in" x1="432.3" x2="557" y1="5" y2="5"/>
<rect class="ex G" x="432.3" y="-2.5" width="3.7" height="15"/><rect class="ex Y" x="462" y="-2.5" width="4" height="15"/><rect class="ex Y" x="481" y="-2.5" width="6" height="15"/><rect class="ex Y" x="496" y="-2.5" width="6" height="15"/><rect class="ex Y" x="509" y="-2.5" width="4" height="15"/><rect class="ex Y" x="517" y="-2.5" width="4" height="15"/><rect class="ex Y" x="536" y="-2.5" width="18" height="15"/><rect class="ex G" x="554" y="-2.5" width="3" height="15"/>
</g>

<g id="CqHAK25" transform="translate(0,667)">
<text class="lbl" x="127" y="4">CqHAK25</text>
<rect class="dom kt" x="196.7" y="-2.5" width="112.3" height="7.5"/>
<line class="pl" x1="192.7" x2="337.7" y1="6.5" y2="6.5"/>
<use href="#m2" x="205.7" y="8.5"/><use href="#m10" x="221.7" y="8.5"/><use href="#m5" x="239.3" y="8.5"/><use href="#m8" x="251" y="8.5"/><use href="#m1" x="261" y="8.5"/><use href="#m4" x="269.3" y="8.5"/><use href="#m6" x="286.7" y="8.5"/><use href="#m3" x="297.7" y="8.5"/><use href="#m7" x="328.3" y="8.5"/>
<line class="in" x1="432.3" x2="556" y1="5" y2="5"/>
<rect class="ex G" x="432.3" y="-2.5" width="3.7" height="15"/><rect class="ex Y" x="461" y="-2.5" width="5" height="15"/><rect class="ex Y" x="481" y="-2.5" width="5" height="15"/><rect class="ex Y" x="496" y="-2.5" width="6" height="15"/><rect class="ex Y" x="508" y="-2.5" width="4" height="15"/><rect class="ex Y" x="519" y="-2.5" width="4" height="15"/><rect class="ex Y" x="534" y="-2.5" width="20" height="15"/><rect class="ex G" x="554" y="-2.5" width="2" height="15"/>
</g>

<g id="CqHAK18" transform="translate(0,689.75)">
<text class="lbl" x="127" y="4">CqHAK18</text>
<rect class="dom kb" x="201.7" y="-2.5" width="88.3" height="7.5"/>
<line class="pl" x1="192.7" x2="313.3" y1="6.5" y2="6.5"/>
<use href="#m2" x="206" y="8.5"/><use href="#m10" x="221.7" y="8.5"/><use href="#m5" x="236.7" y="8.5"/><use href="#m6" x="264.3" y="8.5"/><use href="#m3" x="274.3" y="8.5"/><use href="#m7" x="305" y="8.5"/>
<line class="in" x1="432.3" x2="538" y1="5" y2="5"/>
<rect class="ex G" x="432.3" y="-2.5" width="3.7" height="15"/><rect class="ex Y" x="455" y="-2.5" width="3" height="15"/><rect class="ex Y" x="469" y="-2.5" width="4" height="15"/><rect class="ex Y" x="478" y="-2.5" width="4" height="15"/><rect class="ex Y" x="491" y="-2.5" width="4" height="15"/><rect class="ex Y" x="499" y="-2.5" width="3" height="15"/><rect class="ex Y" x="515" y="-2.5" width="6" height="15"/><rect class="ex Y" x="524" y="-2.5" width="14" height="15"/>
</g>

<g id="legend">
<rect x="660" y="14.5" width="26.7" height="8" fill="url(#g9)" stroke="#d0d0d0" stroke-width="0.5"/><text class="leg" x="690" y="20.5">Motif 9</text>
<rect x="660" y="28.7" width="26.7" height="8" fill="url(#g2)" stroke="#d0d0d0" stroke-width="0.5"/><text class="leg" x="690" y="34.7">Motif 2</text>
<rect x="660" y="42.9" width="26.7" height="8" fill="url(#g10)" stroke="#d0d0d0" stroke-width="0.5"/><text class="leg" x="690" y="48.9">Motif 10</text>
<rect x="660" y="57.1" width="26.7" height="8" fill="url(#g5)" stroke="#d0d0d0" stroke-width="0.5"/><text class="leg" x="690" y="63.1">Motif 5</text>
<rect x="660" y="71.3" width="26.7" height="8" fill="url(#g8)" stroke="#d0d0d0" stroke-width="0.5"/><text class="leg" x="690" y="77.3">Motif 8</text>
<rect x="660" y="85.5" width="26.7" height="8" fill="url(#g1)" stroke="#d0d0d0" stroke-width="0.5"/><text class="leg" x="690" y="91.5">Motif 1</text>
<rect x="660" y="99.7" width="26.7" height="8" fill="url(#g4)" stroke="#d0d0d0" stroke-width="0.5"/><text class="leg" x="690" y="105.7">Motif 4</text>
<rect x="660" y="113.9" width="26.7" height="8" fill="url(#g6)" stroke="#d0d0d0" stroke-width="0.5"/><text class="leg" x="690" y="119.9">Motif 6</text>
<rect x="660" y="128.1" width="26.7" height="8" fill="url(#g3)" stroke="#d0d0d0" stroke-width="0.5"/><text class="leg" x="690" y="134.1">Motif 3</text>
<rect x="660" y="142.3" width="26.7" height="8" fill="url(#g7)" stroke="#d0d0d0" stroke-width="0.5"/><text class="leg" x="690" y="148.3">Motif 7</text>
<rect x="660" y="163" width="26.7" height="7" class="kb" stroke="#d0d0d0" stroke-width="0.5"/><text class="leg" x="689" y="169">K_trans superfamily</text>
<rect x="660" y="176.3" width="26.7" height="7" class="up" stroke="#d0d0d0" stroke-width="0.5"/><text class="leg" x="689" y="182.3">UPF0016</text>
<rect x="660" y="189.6" width="26.7" height="7" class="pn" stroke="#d0d0d0" stroke-width="0.5"/><text class="leg" x="689" y="195.6">PLN00151</text>
<rect x="660" y="204" width="26.7" height="7" class="zf" stroke="#d0d0d0" stroke-width="0.5"/><text class="leg" x="689" y="210">zf-RVT</text>
<rect x="660" y="219" width="26.7" height="7" class="kt" stroke="#d0d0d0" stroke-width="0.5"/><text class="leg" x="689" y="225">K_trans</text>
<rect x="660.7" y="253" width="27.6" height="10" class="G" stroke="#d0d0d0" stroke-width="0.5"/><text class="leg" x="691.7" y="261">UTR</text>
<rect x="660.7" y="266.7" width="27.6" height="10" class="Y" stroke="#d0d0d0" stroke-width="0.5"/><text class="leg" x="691.7" y="275">CDS</text>
</g>

<g id="axisB">
<path class="axl" d="M190.7,723V727.5H383.3V723M210,724V727.5M229.2,724V727.5M248.5,724V727.5M267.7,724V727.5M287,724V727.5M306.3,724V727.5M325.5,724V727.5M344.8,724V727.5M364,724V727.5"/>
<text class="pr" x="181" y="727">5'</text>
<text class="pr" x="384" y="727">3'</text>
<text class="ax" x="190.7" y="745">0</text><text class="ax" x="210" y="745">100</text><text class="ax" x="229.2" y="745">200</text><text class="ax" x="248.5" y="745">300</text><text class="ax" x="267.7" y="745">400</text><text class="ax" x="287" y="745">500</text><text class="ax" x="306.3" y="745">600</text><text class="ax" x="325.5" y="745">700</text><text class="ax" x="344.8" y="745">800</text><text class="ax" x="364" y="745">900</text><text class="ax" x="385" y="745">1,000</text>
</g>

<g id="axisC">
<path class="axl" d="M433.3,721V725H705.7V721M472.2,721.5V725M511.1,721.5V725M550,721.5V725M588.9,721.5V725M627.9,721.5V725M666.8,721.5V725"/>
<text class="pr" x="423" y="724">5'</text>
<text class="pr" x="707" y="724">3'</text>
<text class="ax" x="433.3" y="745">0</text><text class="ax" x="472.2" y="745">2,000</text><text class="ax" x="511.1" y="745">4,000</text><text class="ax" x="550" y="745">6,000</text><text class="ax" x="588.9" y="745">8,000</text><text class="ax" x="627.9" y="745">10,000</text><text class="ax" x="666.8" y="745">12,000</text><text class="ax" x="705.7" y="745">14,000</text>
</g>
</svg>
